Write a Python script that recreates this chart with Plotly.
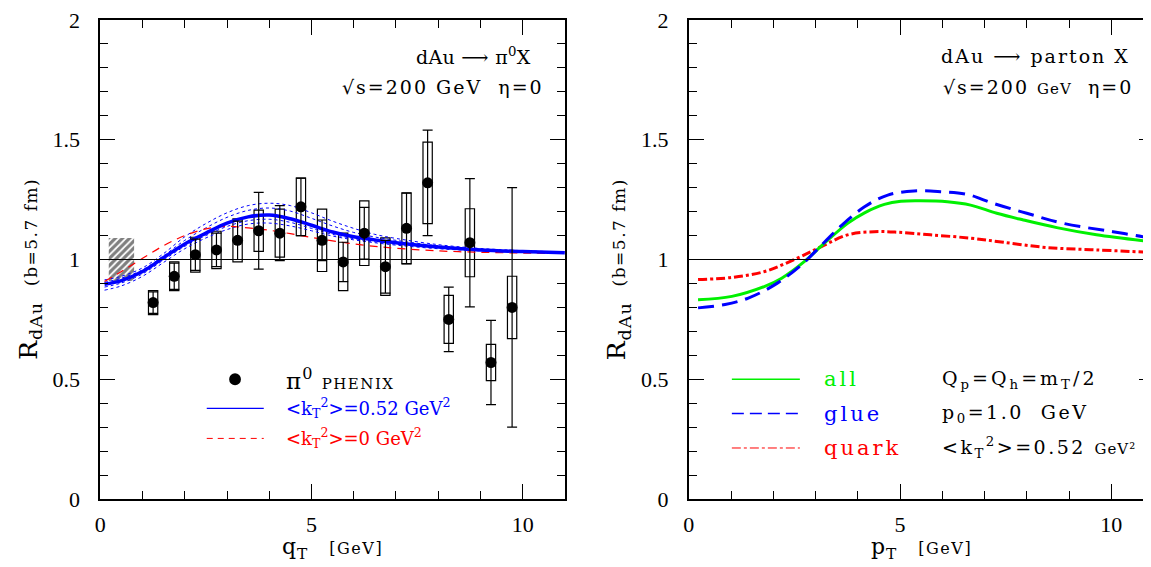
import plotly.graph_objects as go

# ---------------- data: left panel (pi0 R_dAu) ----------------
qt = [1.25, 1.75, 2.25, 2.75, 3.25, 3.75, 4.25, 4.75, 5.25, 5.75, 6.25, 6.75, 7.25, 7.75, 8.25, 8.75, 9.25, 9.75]
r_phenix = [0.82, 0.93, 1.02, 1.04, 1.08, 1.12, 1.11, 1.22, 1.08, 0.99, 1.11, 0.97, 1.13, 1.32, 0.75, 1.07, 0.57, 0.80]
stat_err = [0.045, 0.055, 0.065, 0.07, 0.08, 0.16, 0.115, 0.12, 0.085, 0.082, 0.108, 0.11, 0.148, 0.22, 0.135, 0.268, 0.176, 0.50]
sys_err = [0.05, 0.06, 0.073, 0.078, 0.09, 0.086, 0.10, 0.12, 0.13, 0.12, 0.135, 0.12, 0.147, 0.17, 0.10, 0.142, 0.076, 0.13]

hatch_x = [0.5]
hatch_lo = [0.91]
hatch_hi = [1.09]

q_grid = [0.1, 0.5, 1.0, 1.5, 2.0, 2.5, 3.0, 3.5, 4.0, 4.5, 5.0, 5.5, 6.0, 6.5, 7.0, 8.0, 9.0, 10.0, 11.0]
r_kt052 = [0.897, 0.912, 0.950, 1.008, 1.065, 1.110, 1.152, 1.178, 1.186, 1.170, 1.143, 1.115, 1.095, 1.082, 1.070, 1.052, 1.040, 1.033, 1.028]
r_kt0 = [0.908, 0.950, 1.005, 1.058, 1.100, 1.128, 1.138, 1.132, 1.122, 1.108, 1.092, 1.078, 1.065, 1.055, 1.047, 1.036, 1.030, 1.027, 1.025]
band_a = [0.915, 0.930, 0.965, 1.025, 1.095, 1.150, 1.195, 1.225, 1.235, 1.225, 1.195, 1.160, 1.130, 1.105, 1.088, 1.062, 1.046, 1.037, 1.031]
band_b = [0.905, 0.922, 0.957, 1.016, 1.080, 1.132, 1.176, 1.205, 1.215, 1.202, 1.172, 1.140, 1.113, 1.094, 1.080, 1.057, 1.043, 1.035, 1.030]
band_c = [0.885, 0.902, 0.940, 0.998, 1.055, 1.100, 1.138, 1.162, 1.168, 1.155, 1.130, 1.105, 1.087, 1.074, 1.064, 1.048, 1.038, 1.032, 1.027]
band_d = [0.872, 0.890, 0.930, 0.988, 1.045, 1.090, 1.125, 1.148, 1.152, 1.140, 1.120, 1.098, 1.082, 1.070, 1.060, 1.045, 1.036, 1.030, 1.026]

# ---------------- data: right panel (partons) ----------------
pt_all = [0.22, 1.02, 1.80, 2.20, 2.74, 3.21, 3.76, 4.16, 4.63, 5.02, 5.49, 6.12, 6.67, 7.29, 7.92, 8.71, 9.65, 10.9, 11.0]
r_all = [0.832, 0.846, 0.888, 0.922, 0.992, 1.068, 1.151, 1.195, 1.230, 1.243, 1.245, 1.241, 1.227, 1.193, 1.165, 1.133, 1.103, 1.075, 1.073]
pt_glue = [0.22, 0.86, 1.41, 2.04, 2.67, 3.21, 3.61, 4.16, 4.71, 5.33, 5.96, 6.59, 7.21, 8.00, 8.86, 10.04, 10.9, 11.0]
r_glue = [0.798, 0.812, 0.839, 0.895, 0.978, 1.072, 1.141, 1.220, 1.269, 1.286, 1.283, 1.272, 1.234, 1.193, 1.151, 1.116, 1.091, 1.089]
pt_quark = [0.22, 1.02, 1.80, 2.51, 3.14, 3.76, 4.39, 4.94, 5.72, 6.67, 7.45, 8.47, 9.65, 10.9, 11.0]
r_quark = [0.916, 0.925, 0.950, 1.001, 1.054, 1.103, 1.116, 1.114, 1.103, 1.089, 1.072, 1.050, 1.040, 1.030, 1.029]

x_ticks = [0, 5, 10]
y_ticks = [0, 0.5, 1, 1.5, 2]
y_ticklabels = ["0", "0.5", "1", "1.5", "2"]

# ---------------- figure geometry ----------------
OFF = 8                      # page body margin of the html page
W, H = 1151, 559
MT, MB = 8, 68
PH = H - MT - MB             # plot height in px
PLOT_BOTTOM = OFF + MT + PH  # page px of y=0
FONT = "DejaVu Serif"
TFONT = "Liberation Serif"
GREEN = "#00f000"

def px2x(px):
    return (px - OFF) / W

def py2y(py):
    return (PLOT_BOTTOM - py) / PH

fig = go.Figure()

# hatched normalisation box
fig.add_trace(go.Bar(
    x=hatch_x, base=hatch_lo, y=[h - l for h, l in zip(hatch_hi, hatch_lo)], width=0.6,
    marker=dict(color="white", line=dict(width=0),
                pattern=dict(shape="/", fgcolor="black", bgcolor="white", size=5, solidity=0.65)),
    xaxis="x", yaxis="y", showlegend=False, hoverinfo="skip"))

# systematic boxes
fig.add_trace(go.Bar(
    x=qt, base=[v - s for v, s in zip(r_phenix, sys_err)], y=[2 * s for s in sys_err], width=0.22,
    marker=dict(color="rgba(0,0,0,0)", line=dict(color="black", width=1.2)),
    xaxis="x", yaxis="y", showlegend=False, hoverinfo="skip"))

# dotted band
for band in (band_a, band_b, band_c, band_d):
    fig.add_trace(go.Scatter(x=q_grid, y=band, mode="lines", line=dict(color="blue", width=1, dash="dot", shape="spline"),
                             xaxis="x", yaxis="y", showlegend=False, hoverinfo="skip"))

fig.add_trace(go.Scatter(x=q_grid, y=r_kt0, mode="lines", line=dict(color="red", width=1.2, dash="8px,6px", shape="spline"),
                         xaxis="x", yaxis="y", showlegend=False))
fig.add_trace(go.Scatter(x=q_grid, y=r_kt052, mode="lines", line=dict(color="blue", width=3.5, shape="spline"),
                         xaxis="x", yaxis="y", showlegend=False))

# data points with stat errors
fig.add_trace(go.Scatter(
    x=qt, y=r_phenix, mode="markers",
    marker=dict(color="black", size=11),
    error_y=dict(type="data", array=stat_err, color="black", thickness=1.2, width=5),
    xaxis="x", yaxis="y", showlegend=False))

# right panel curves
fig.add_trace(go.Scatter(x=pt_quark, y=r_quark, mode="lines", line=dict(color="red", width=3, dash="dashdot", shape="spline"),
                         xaxis="x2", yaxis="y2", showlegend=False))
fig.add_trace(go.Scatter(x=pt_all, y=r_all, mode="lines", line=dict(color=GREEN, width=3, shape="spline"),
                         xaxis="x2", yaxis="y2", showlegend=False))
fig.add_trace(go.Scatter(x=pt_glue, y=r_glue, mode="lines", line=dict(color="blue", width=3, dash="16px,8px", shape="spline"),
                         xaxis="x2", yaxis="y2", showlegend=False))

# reference lines at R=1
shapes = [
    dict(type="line", xref="x domain", yref="y", x0=0, x1=1, y0=1, y1=1, line=dict(color="black", width=1)),
    dict(type="line", xref="x2 domain", yref="y2", x0=0, x1=1, y0=1, y1=1, line=dict(color="black", width=1)),
]

# legend samples (left)
shapes += [
    dict(type="circle", xref="x", yref="y", x0=3.05, x1=3.33, y0=0.475, y1=0.525, fillcolor="black", line=dict(width=0)),
    dict(type="line", xref="x", yref="y", x0=2.52, x1=3.87, y0=0.378, y1=0.378, line=dict(color="blue", width=1.2)),
    dict(type="line", xref="x", yref="y", x0=2.52, x1=3.87, y0=0.253, y1=0.253, line=dict(color="red", width=1, dash="6px,5px")),
]
# legend samples (right)
shapes += [
    dict(type="line", xref="x2", yref="y2", x0=1.02, x1=2.63, y0=0.5, y1=0.5, line=dict(color=GREEN, width=1.5)),
    dict(type="line", xref="x2", yref="y2", x0=1.02, x1=2.63, y0=0.357, y1=0.357, line=dict(color="blue", width=1.3, dash="12px,6px")),
    dict(type="line", xref="x2", yref="y2", x0=1.02, x1=2.63, y0=0.213, y1=0.213, line=dict(color="red", width=1, dash="dashdot")),
]

def sp(text, ls=1.5, size=None):
    s = "letter-spacing:{}px".format(ls)
    if size:
        s += ";font-size:{}px".format(size)
    return "<span style='{}'>{}</span>".format(s, text)

ann = []
def A(text, x, y, xref, yref, size=18, color="black", xanchor="left", yanchor="middle", angle=0, font=FONT):
    ann.append(dict(text=text, x=x, y=y, xref=xref, yref=yref, showarrow=False, xanchor=xanchor, yanchor=yanchor,
                    textangle=angle, font=dict(family=font, size=size, color=color)))

# header texts
A(sp("dAu ⟶ π<sup>0</sup>X", 0.3), 10.24, 1.85, "x", "y", size=19, xanchor="right")
A(sp("√s=200 GeV  η=0", 2), 10.56, 1.72, "x", "y", size=19, xanchor="right")
A(sp("dAu ⟶ parton X", 2), 10.48, 1.85, "x2", "y2", size=19, xanchor="right")
A(sp("√s=200 ", 2) + sp("GeV", 1, 15) + sp("  η=0", 2), 10.56, 1.72, "x2", "y2", size=19, xanchor="right")

# left legend text
A(sp("π<sup>0</sup> ", 1) + sp("PHENIX", 1.5, 15), 4.36, 0.5, "x", "y", size=23)
A("&lt;k<sub>T</sub><sup>2</sup>&gt;=0.52 GeV<sup>2</sup>", 4.36, 0.378, "x", "y", size=18, color="blue")
A("&lt;k<sub>T</sub><sup>2</sup>&gt;=0 GeV<sup>2</sup>", 4.36, 0.253, "x", "y", size=18, color="red")

# right legend text
A(sp("all", 3), 3.16, 0.5, "x2", "y2", size=21, color=GREEN)
A(sp("glue", 3), 3.16, 0.357, "x2", "y2", size=21, color="blue")
A(sp("quark", 3), 3.16, 0.213, "x2", "y2", size=21, color="red")
A(sp("Q<sub>p</sub>=Q<sub>h</sub>=m<sub>T</sub>/2", 3), 5.94, 0.5, "x2", "y2", size=19)
A(sp("p<sub>0</sub>=1.0  GeV", 2.5), 5.94, 0.357, "x2", "y2", size=19)
A(sp("&lt;k<sub>T</sub><sup>2</sup>&gt;=0.52 ", 2.5) + sp("GeV²", 1, 15), 5.94, 0.213, "x2", "y2", size=19)

# axis titles
ytitle = sp("R<sub>dAu</sub>", 1) + "  " + sp("(b=5.7 fm)", 1.5, 17)
A(ytitle, px2x(25), py2y(267), "paper", "paper", size=25, angle=-90, xanchor="center")
A(ytitle, px2x(616), py2y(267), "paper", "paper", size=25, angle=-90, xanchor="center")
A(sp("q<sub>T</sub>", 1) + "   " + sp("[GeV]", 1.5, 16), px2x((95.7 + 562.3) / 2), py2y(549), "paper", "paper", size=22, xanchor="center")
A(sp("p<sub>T</sub>", 1) + "   " + sp("[GeV]", 1.5, 16), px2x((686.7 + 1153.5) / 2), py2y(549), "paper", "paper", size=22, xanchor="center")

axis_common = dict(showline=True, linecolor="black", linewidth=1.6, mirror="allticks", ticks="inside",
                   tickcolor="black", tickwidth=1, showgrid=False, zeroline=False, ticklabeloverflow="allow",
                   tickfont=dict(family=TFONT, size=22, color="black"))
xcommon = dict(axis_common, range=[0, 11], tickvals=x_ticks, ticklen=15,
               minor=dict(dtick=1, ticklen=8, ticks="inside", tickcolor="black", tickwidth=1, showgrid=False),
               ticklabelstandoff=5)
ycommon = dict(axis_common, range=[0, 2], tickvals=y_ticks, ticktext=y_ticklabels, ticklen=15,
               minor=dict(dtick=0.1, ticklen=8, ticks="inside", tickcolor="black", tickwidth=1, showgrid=False),
               ticklabelstandoff=14)

fig.update_layout(
    width=W, height=H, margin=dict(l=0, r=0, t=MT, b=MB),
    paper_bgcolor="white", plot_bgcolor="white",
    barmode="overlay", showlegend=False,
    xaxis=dict(xcommon, domain=[px2x(95.7), px2x(562.3)], anchor="y"),
    yaxis=dict(ycommon, domain=[0, 1], anchor="x"),
    xaxis2=dict(xcommon, domain=[px2x(686.7), px2x(1153.5)], anchor="y2"),
    yaxis2=dict(ycommon, domain=[0, 1], anchor="x2"),
    shapes=shapes, annotations=ann,
)

fig.write_html("out.html")
